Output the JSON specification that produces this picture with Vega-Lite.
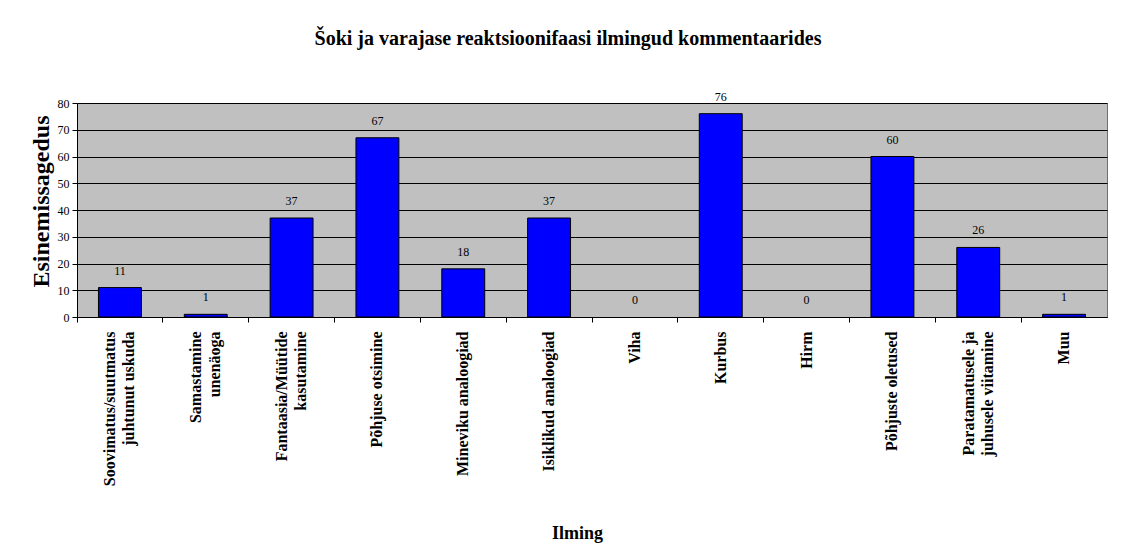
{
  "$schema": "https://vega.github.io/schema/vega-lite/v6.json",
  "autosize": {"type": "none"},
  "padding": {"left": 77, "top": 103, "right": 15, "bottom": 231},
  "width": 1030,
  "height": 214,
  "background": "white",
  "title": {
    "text": "Šoki ja varajase reaktsioonifaasi ilmingud kommentaarides",
    "font": "Liberation Serif",
    "fontSize": 20,
    "fontWeight": "bold",
    "color": "black",
    "anchor": "middle",
    "dx": -24,
    "offset": 42
  },
  "data": {
    "values": [
      {"ilming": "Soovimatus/suutmatus|juhtunut uskuda", "n": 11},
      {"ilming": "Samastamine|unenäoga", "n": 1},
      {"ilming": "Fantaasia/Müütide|kasutamine", "n": 37},
      {"ilming": "Põhjuse otsimine", "n": 67},
      {"ilming": "Mineviku analoogiad", "n": 18},
      {"ilming": "Isiklikud analoogiad", "n": 37},
      {"ilming": "Viha", "n": 0},
      {"ilming": "Kurbus", "n": 76},
      {"ilming": "Hirm", "n": 0},
      {"ilming": "Põhjuste oletused", "n": 60},
      {"ilming": "Paratamatusele ja|juhusele viitamine", "n": 26},
      {"ilming": "Muu", "n": 1}
    ]
  },
  "encoding": {
    "x": {
      "field": "ilming",
      "type": "nominal",
      "sort": null,
      "scale": {"paddingInner": 0.5, "paddingOuter": 0.25},
      "axis": {
        "title": "Ilming",
        "titleFont": "Liberation Serif",
        "titleFontSize": 18,
        "titleFontWeight": "bold",
        "titleColor": "black",
        "titleX": 500,
        "titleY": 216,
        "titleAlign": "center",
        "titleBaseline": "middle",
        "bandPosition": -0.5,
        "labelOffset": {"condition": {"test": "indexof(datum.value, '|') >= 0", "value": -9.5}, "value": 0},
        "labelAngle": -90,
        "labelAlign": "right",
        "labelBaseline": "middle",
        "labelExpr": "split(datum.label, '|')",
        "labelFont": "Liberation Serif",
        "labelFontSize": 16,
        "labelFontWeight": "bold",
        "labelColor": "black",
        "labelLineHeight": 19,
        "labelLimit": 400,
        "labelPadding": 9,
        "labelOverlap": false,
        "tickColor": "black",
        "tickSize": 5,
        "domainColor": "black",
        "grid": false
      }
    },
    "y": {
      "field": "n",
      "type": "quantitative",
      "scale": {"domain": [0, 80], "nice": false},
      "axis": {
        "title": "Esinemissagedus",
        "titleFont": "Liberation Serif",
        "titleFontSize": 24,
        "titleFontWeight": "bold",
        "titleColor": "black",
        "titleAngle": -90,
        "titleX": -36,
        "titleY": 98,
        "titleAlign": "center",
        "titleBaseline": "middle",
        "values": [0, 10, 20, 30, 40, 50, 60, 70, 80],
        "labelFont": "Liberation Serif",
        "labelFontSize": 12,
        "labelColor": "black",
        "labelPadding": 3,
        "tickColor": "black",
        "tickSize": 5,
        "domainColor": "black",
        "grid": true,
        "gridColor": "black",
        "gridOpacity": 1,
        "gridWidth": 1
      }
    }
  },
  "layer": [
    {
      "mark": {"type": "bar", "color": "#0000FF", "stroke": "black"},
      "encoding": {
        "strokeWidth": {"condition": {"test": "datum.n == 0", "value": 0}, "value": 1}
      }
    },
    {
      "mark": {
        "type": "text",
        "baseline": "middle",
        "dy": -17,
        "font": "Liberation Serif",
        "fontSize": 12,
        "color": "black"
      },
      "encoding": {"text": {"field": "n", "type": "quantitative"}}
    }
  ],
  "config": {
    "view": {"fill": "#C0C0C0", "stroke": "#6a6a9a", "strokeWidth": 1}
  }
}
